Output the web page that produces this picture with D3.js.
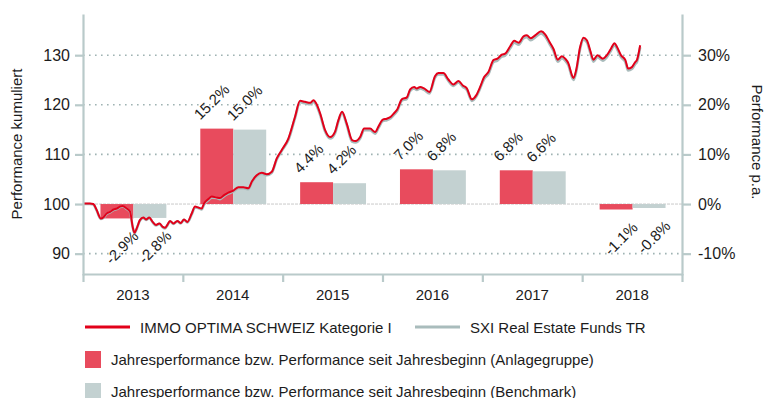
<!DOCTYPE html>
<html>
<head>
<meta charset="utf-8">
<script src="https://cdn.jsdelivr.net/npm/d3@7"></script>
<style>
  html, body { margin: 0; padding: 0; background: #fff; }
  svg { display: block; font-family: "Liberation Sans", Arial, sans-serif; }
</style>
</head>
<body>
<svg id="chart" width="765" height="398"></svg>
<script>
// Calendar years shown as bands on the x axis
const years = ["2013", "2014", "2015", "2016", "2017", "2018"];

// Annual performance (%), fund and benchmark
const perfFund  = [-2.9, 15.2, 4.4, 7.0, 6.8, -1.1];
const perfBench = [-2.8, 15.0, 4.2, 6.8, 6.6, -0.8];

// Axis ticks
const leftTicks  = [90, 100, 110, 120, 130];
const rightTicks = [-10, 0, 10, 20, 30];

// Observation times (decimal years) for the cumulative series
const lineTime = [
  2013.005, 2013.070, 2013.103, 2013.137, 2013.177, 2013.203, 2013.237, 2013.271, 2013.304, 2013.338,
  2013.371, 2013.398, 2013.438, 2013.471, 2013.498, 2013.516, 2013.538, 2013.571, 2013.604, 2013.631,
  2013.664, 2013.698, 2013.731, 2013.765, 2013.799, 2013.822, 2013.845, 2013.872, 2013.905, 2013.945,
  2013.979,
  2014.012, 2014.045, 2014.089, 2014.122, 2014.155, 2014.189, 2014.212, 2014.256, 2014.290, 2014.340,
  2014.373, 2014.413, 2014.456, 2014.506, 2014.556, 2014.606, 2014.656, 2014.693, 2014.740, 2014.791,
  2014.841, 2014.891, 2014.941, 2014.991,
  2015.057, 2015.124, 2015.174, 2015.224, 2015.275, 2015.308, 2015.335, 2015.375, 2015.425, 2015.475,
  2015.525, 2015.558, 2015.595, 2015.642, 2015.695, 2015.730, 2015.776, 2015.816, 2015.876, 2015.926,
  2015.959,
  2016.003, 2016.043, 2016.083, 2016.116, 2016.149, 2016.193, 2016.244, 2016.277, 2016.317, 2016.344,
  2016.377, 2016.417, 2016.470, 2016.527, 2016.560, 2016.610, 2016.660, 2016.710, 2016.761, 2016.805,
  2016.845, 2016.895, 2016.938, 2016.978,
  2017.018, 2017.061, 2017.111, 2017.151, 2017.195, 2017.228, 2017.279, 2017.319, 2017.364, 2017.412,
  2017.446, 2017.486, 2017.529, 2017.589, 2017.629, 2017.672, 2017.712, 2017.756, 2017.797, 2017.830,
  2017.863, 2017.897, 2017.913, 2017.940, 2017.980,
  2018.013, 2018.047, 2018.080, 2018.113, 2018.153, 2018.207, 2018.248, 2018.288, 2018.324, 2018.348,
  2018.389, 2018.433, 2018.460, 2018.498, 2018.531, 2018.548, 2018.581
];

// IMMO OPTIMA SCHWEIZ Kategorie I, cumulative (start = 100)
const fundIndex = [
  100.1, 100.1, 100.0, 98.8, 97.1, 97.3, 98.1, 98.4, 98.9, 99.1,
  99.5, 99.6, 99.1, 98.5, 95.4, 94.2, 95.1, 96.8, 97.3, 96.9,
  97.3, 96.4, 95.8, 96.1, 95.4, 95.2, 95.8, 96.6, 96.1, 96.6,
  96.2,
  96.9, 96.4, 98.1, 99.5, 99.3, 99.1, 100.1, 101.0, 101.5, 101.3,
  101.2, 101.8, 102.3, 102.7, 103.4, 103.4, 103.2, 104.6, 105.8, 106.3,
  106.0, 106.5, 109.2, 110.9,
  113.2, 117.6, 120.8, 120.6, 120.4, 120.9, 120.3, 118.3, 114.9, 113.5,
  114.6, 116.9, 118.6, 116.2, 112.9, 112.7, 113.5, 115.2, 115.2, 114.5,
  115.6,
  117.0, 117.2, 117.6, 118.3, 119.1, 121.1, 121.5, 123.1, 123.6, 123.3,
  123.6, 123.3, 122.6, 125.8, 126.4, 126.4, 125.1, 124.1, 124.8, 123.9,
  123.3, 121.1, 121.9, 123.6,
  125.6, 126.6, 129.0, 129.3, 130.1, 130.3, 131.8, 132.9, 132.5, 133.8,
  134.0, 133.4, 134.0, 134.8, 134.2, 132.7, 131.3, 129.1, 129.8, 129.3,
  128.3, 126.0, 125.4, 127.0, 131.7,
  133.5, 133.0, 131.0, 129.1, 130.0, 129.3, 130.0, 131.3, 132.4, 131.7,
  130.0, 129.0, 127.3, 127.6, 128.6, 129.0, 132.0
];

// SXI Real Estate Funds TR, cumulative (start = 100)
const benchIndex = [
  100.0, 100.0, 99.9, 98.7, 97.0, 97.2, 98.0, 98.3, 98.8, 99.0,
  99.4, 99.5, 99.0, 98.4, 95.3, 94.1, 95.0, 96.7, 97.2, 96.8,
  97.2, 96.3, 95.7, 96.0, 95.3, 95.1, 95.7, 96.5, 96.0, 96.5,
  96.1,
  96.8, 96.3, 97.9, 99.3, 99.2, 98.9, 99.9, 100.8, 101.3, 101.2,
  101.0, 101.6, 102.1, 102.5, 103.2, 103.2, 103.0, 104.4, 105.6, 106.1,
  105.8, 106.3, 109.0, 110.7,
  112.9, 117.3, 120.5, 120.3, 120.1, 120.6, 120.0, 118.0, 114.6, 113.2,
  114.3, 116.6, 118.3, 115.9, 112.6, 112.4, 113.2, 114.9, 114.9, 114.2,
  115.3,
  116.7, 116.9, 117.3, 118.0, 118.8, 120.8, 121.2, 122.8, 123.3, 123.0,
  123.3, 123.0, 122.3, 125.5, 126.1, 126.1, 124.8, 123.8, 124.5, 123.6,
  123.0, 120.8, 121.6, 123.3,
  125.2, 126.2, 128.6, 128.9, 129.7, 129.9, 131.4, 132.5, 132.1, 133.4,
  133.6, 133.0, 133.6, 134.4, 133.8, 132.3, 130.9, 128.7, 129.4, 128.9,
  127.9, 125.6, 125.0, 126.6, 131.3,
  133.1, 132.6, 130.6, 128.7, 129.6, 128.9, 129.6, 130.9, 132.0, 131.3,
  129.6, 128.6, 126.9, 127.2, 128.2, 128.6, 131.6
];

const seriesNames = ["IMMO OPTIMA SCHWEIZ Kategorie I", "SXI Real Estate Funds TR"];
const barNames = [
  "Jahresperformance bzw. Performance seit Jahresbeginn (Anlagegruppe)",
  "Jahresperformance bzw. Performance seit Jahresbeginn (Benchmark)"
];

const C = {
  red: "#e2001a",
  redBar: "#e84b5d",
  grayLine: "#a9bcbc",
  grayBar: "#c3d1d1",
  axis: "#b9caca",
  grid: "#9fb3b3",
  text: "#1c1c1c"
};

const svg = d3.select("#chart");
const plotL = 83, plotR = 682, plotT = 14, plotB = 275, axisY = 274;

// Scales: left axis is the cumulative index, right axis the annual return;
// both share the same pixel mapping (100 <-> 0%).
const yL = d3.scaleLinear().domain([85.7, 138.3]).range([plotB, plotT]);
const yR = d3.scaleLinear().domain([-14.3, 38.3]).range([plotB, plotT]);
const xT = d3.scaleLinear().domain([2013, 2019]).range([plotL, plotR]);
const xB = d3.scaleBand().domain(years).range([plotL, plotR]).padding(0);
const bw = xB.bandwidth();
const xSub = d3.scaleBand().domain(["fund", "bench"]).range([bw * 0.175, bw * 0.835]);

// Dotted grid lines
svg.append("g").selectAll("line")
  .data(leftTicks.filter(d => d !== 100))
  .join("line")
  .attr("x1", plotL).attr("x2", plotR)
  .attr("y1", d => yL(d)).attr("y2", d => yL(d))
  .attr("stroke", C.grid).attr("stroke-width", 1.6)
  .attr("stroke-dasharray", "1.6,4.4");

// Baseline at 100 / 0%
svg.append("line")
  .attr("x1", plotL).attr("x2", plotR)
  .attr("y1", yL(100)).attr("y2", yL(100))
  .attr("stroke", "#c9c9c9").attr("stroke-width", 1)
  .attr("stroke-dasharray", "3,1");

// Bars
const barData = years.map((y, i) => ({ year: y, fund: perfFund[i], bench: perfBench[i] }));
const groups = svg.append("g").selectAll("g")
  .data(barData).join("g")
  .attr("transform", d => `translate(${xB(d.year)},0)`);

groups.selectAll("rect")
  .data(d => [{ k: "fund", v: d.fund }, { k: "bench", v: d.bench }])
  .join("rect")
  .attr("x", d => xSub(d.k))
  .attr("width", xSub.bandwidth())
  .attr("y", d => Math.min(yR(d.v), yR(0)))
  .attr("height", d => Math.abs(yR(d.v) - yR(0)))
  .attr("fill", d => d.k === "fund" ? C.redBar : C.grayBar);

// Lines
const lineGen = vals => d3.line()
  .x((d, i) => xT(lineTime[i]))
  .y(d => yL(d))
  .curve(d3.curveMonotoneX)(vals);

svg.append("path").attr("d", lineGen(benchIndex))
  .attr("fill", "none").attr("stroke", C.grayLine).attr("stroke-width", 2.6)
  .attr("stroke-linejoin", "round");
svg.append("path").attr("d", lineGen(fundIndex))
  .attr("fill", "none").attr("stroke", C.red).attr("stroke-width", 2)
  .attr("stroke-linejoin", "round");

// Bar value labels, rotated
const fmt = v => v.toFixed(1) + "%";
groups.selectAll("text")
  .data(d => [{ k: "fund", v: d.fund }, { k: "bench", v: d.bench }])
  .join("text")
  .attr("transform", d => {
    const x0 = xSub(d.k), x1 = x0 + xSub.bandwidth();
    return d.v >= 0
      ? `translate(${x0},${yR(d.v) - 8}) rotate(-45)`
      : `translate(${x1 + 6},${yR(d.v) + 19}) rotate(-45)`;
  })
  .attr("text-anchor", d => d.v >= 0 ? "start" : "end")
  .attr("font-size", 15)
  .attr("fill", C.text)
  .text(d => fmt(d.v));

// Left axis
const gL = svg.append("g").attr("transform", `translate(${plotL},0)`)
  .call(d3.axisLeft(yL).tickValues(leftTicks).tickSize(8).tickSizeOuter(0).tickPadding(5));
// Right axis
const gR = svg.append("g").attr("transform", `translate(${plotR},0)`)
  .call(d3.axisRight(yR).tickValues(rightTicks).tickSize(9).tickSizeOuter(0).tickPadding(7)
    .tickFormat(d => d + "%"));
// Bottom axis (band edges as ticks)
const gB = svg.append("g").attr("transform", `translate(0,${axisY})`)
  .call(d3.axisBottom(xT).tickValues(d3.range(2013, 2020)).tickSize(8).tickSizeOuter(0).tickFormat(""));

[gL, gR, gB].forEach(g => {
  g.select(".domain").attr("stroke", C.axis).attr("stroke-width", 2.2);
  g.selectAll(".tick line").attr("stroke", C.axis).attr("stroke-width", 2.2);
  g.selectAll(".tick text").attr("fill", C.text).attr("font-size", 16)
    .attr("font-family", "Liberation Sans, Arial, sans-serif");
});

// Year labels centred in each band
svg.append("g").selectAll("text")
  .data(years).join("text")
  .attr("x", d => xB(d) + bw / 2)
  .attr("y", 300)
  .attr("text-anchor", "middle")
  .attr("font-size", 15)
  .attr("fill", C.text)
  .text(d => d);

// Axis titles
svg.append("text")
  .attr("transform", `translate(22,144) rotate(-90)`)
  .attr("text-anchor", "middle")
  .attr("font-size", 15)
  .attr("fill", C.text)
  .text("Performance kumuliert");
svg.append("text")
  .attr("transform", `translate(752,142) rotate(90)`)
  .attr("text-anchor", "middle")
  .attr("font-size", 15)
  .attr("fill", C.text)
  .text("Performance p.a.");

// Legend
const lg = svg.append("g");
const lineItems = [
  { x: 85, color: C.red, label: seriesNames[0] },
  { x: 415, color: C.grayLine, label: seriesNames[1] }
];
lineItems.forEach(it => {
  lg.append("line").attr("x1", it.x).attr("x2", it.x + 45)
    .attr("y1", 327).attr("y2", 327)
    .attr("stroke", it.color).attr("stroke-width", 3);
  lg.append("text").attr("x", it.x + 55).attr("y", 332.5)
    .attr("font-size", 15).attr("fill", C.text).text(it.label);
});
const boxItems = [
  { y: 351, color: C.redBar, label: barNames[0] },
  { y: 383, color: C.grayBar, label: barNames[1] }
];
boxItems.forEach(it => {
  lg.append("rect").attr("x", 85).attr("y", it.y).attr("width", 16).attr("height", 17)
    .attr("fill", it.color);
  lg.append("text").attr("x", 111).attr("y", it.y + 13.5)
    .attr("font-size", 15).attr("fill", C.text).text(it.label);
});
</script>
</body>
</html>
